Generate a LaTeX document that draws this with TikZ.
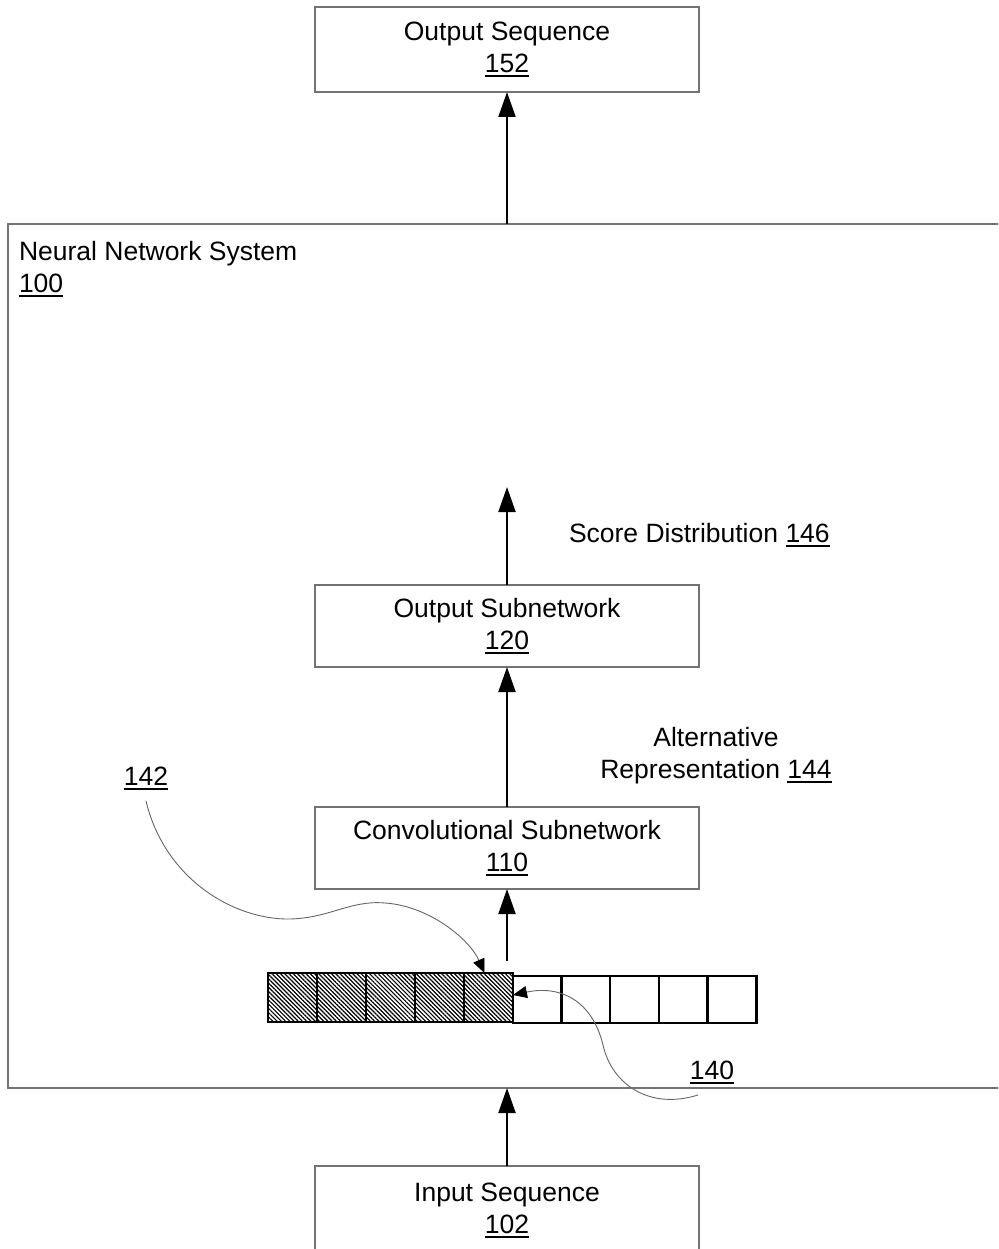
\documentclass[tikz,border=0pt]{standalone}
\usepackage{fontspec}
\setmainfont{Liberation Sans}
\usetikzlibrary{arrows.meta,patterns.meta}
\newcommand\myfont{\fontsize{26.5}{32}\selectfont}
\newcommand\unum[1]{\setbox0\hbox{#1}\rlap{\rule[-4.5pt]{\wd0}{1.7pt}}\box0}
\begin{document}
\begin{tikzpicture}[x=1pt,y=-1pt,
  box/.style={draw=black!55, line width=1.2pt, minimum width=384pt, inner sep=0pt, outer sep=0pt, align=center, font=\myfont},
  lbl/.style={inner sep=0pt, outer sep=0pt, font=\myfont},
  flow/.style={line width=2pt, -{Triangle[length=25pt,width=17pt]}},
  lead/.style={draw=black!60, line width=0.9pt, -{Triangle[length=14pt,width=12pt,color=black]}},
  hcell/.style={draw, line width=2.5pt, minimum width=49pt, minimum height=49pt, inner sep=0pt, outer sep=0pt, pattern={Lines[angle=-45,distance=3pt,line width=1.2pt]}},
  wcell/.style={draw, line width=2.5pt, minimum width=49pt, minimum height=47pt, inner sep=0pt, outer sep=0pt, fill=white}
]
\useasboundingbox (0,0) rectangle (998,1249);
\begin{scope}
\clip (0,0) rectangle (998,1249);
\node[box, minimum width=997pt, minimum height=864pt] (sys) at (506.5,656) {};
\node[box, minimum height=88pt] (inseq) at (507,1210) {Input Sequence\\\unum{102}};
\end{scope}
\node[box, minimum height=85pt] (outseq) at (507,49.5) {Output Sequence\\\unum{152}};
\node[box, minimum height=82pt] (osub) at (507,626) {Output Subnetwork\\\unum{120}};
\node[box, minimum height=82pt] (conv) at (507,848) {Convolutional Subnetwork\\\unum{110}};

\node[lbl, anchor=north west, align=left] (syslbl) at (19,241) {Neural Network System\\\unum{100}};
\node[lbl, anchor=base west] (score) at (569,542) {Score Distribution \unum{146}};
\node[lbl, anchor=north, align=center] (altrep) at (716,727) {Alternative\\Representation \unum{144}};
\node[lbl, anchor=base] (n142) at (146,785) {\unum{142}};
\node[lbl, anchor=base] (n140) at (712,1079) {\unum{140}};

\foreach \i in {1,...,5} {
  \node[hcell] (h\i) at ({268+24.5+49*(\i-1)},997.5) {};
}
\foreach \i in {1,...,5} {
  \node[wcell] (w\i) at ({513+24.5+48.6*(\i-1)},999.5) {};
}
\draw[line width=2.5pt] (h5.north west) rectangle (h5.south east);

\coordinate (cstart) at (507,961);
\coordinate (scoretip) at (507,487);
\coordinate (s142) at (146,801);
\coordinate (s140) at (698,1095);

\draw[flow] (inseq.north) -- (inseq.north |- sys.south);
\draw[flow] (cstart) -- (cstart |- conv.south);
\draw[flow] (conv.north) -- (osub.south);
\draw[flow] (osub.north) -- (scoretip);
\draw[flow] (outseq.south |- sys.north) -- (outseq.south);

\draw[lead] (s142) .. controls (165,880) and (235,920) .. (290,919)
  .. controls (330,918) and (350,900) .. (385,903)
  .. controls (430,906) and (470,940) .. ([xshift=-4pt]h5.north);
\draw[lead] (s140) .. controls (650,1110) and (612,1085) .. (603,1045)
  .. controls (592,1000) and (560,985) .. ([yshift=4.5pt]w1.west);
\end{tikzpicture}
\end{document}
